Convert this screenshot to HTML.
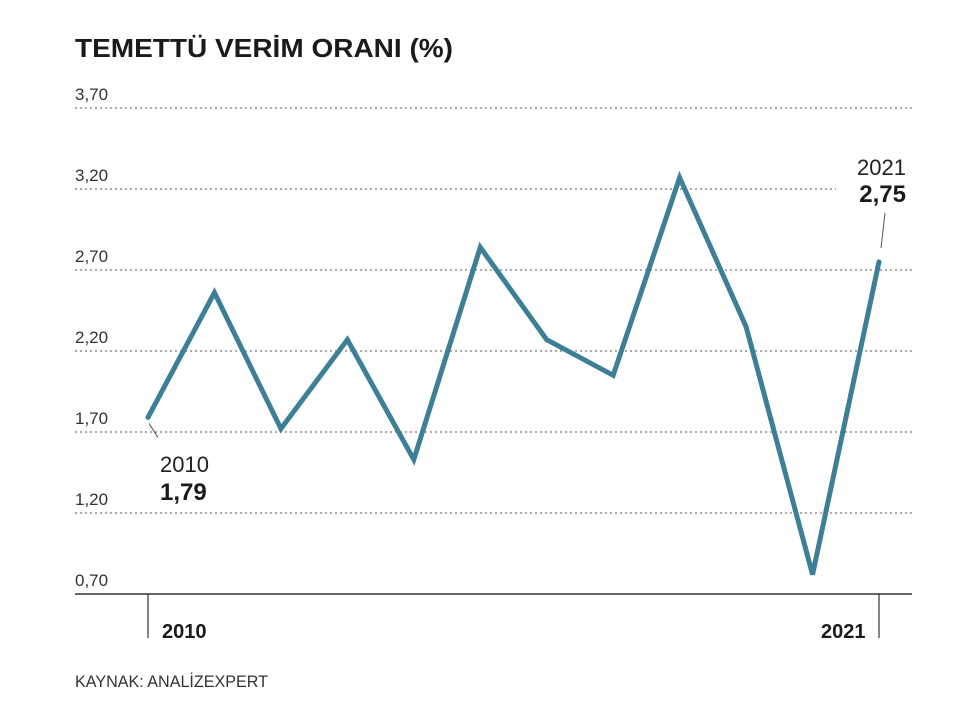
<!DOCTYPE html>
<html><head><meta charset="utf-8"><style>
body{margin:0;background:#fff;}
svg text{font-family:"Liberation Sans",sans-serif;}
</style></head><body>
<svg width="966" height="708" xmlns="http://www.w3.org/2000/svg">
<rect width="966" height="708" fill="#fff"/>
<text x="75" y="57" font-size="26" font-weight="bold" fill="#1a1a1a" textLength="378" lengthAdjust="spacingAndGlyphs">TEMETTÜ VERİM ORANI (%)</text>
<g id="grid"></g>
<g id="axis"></g>
<g id="line"></g>
<text x="75" y="687" font-size="17" fill="#333" textLength="193" lengthAdjust="spacingAndGlyphs">KAYNAK: ANALİZEXPERT</text>
</svg>
<script>
const years = [2010,2011,2012,2013,2014,2015,2016,2017,2018,2019,2020,2021];
const values = [1.79,2.56,1.72,2.27,1.53,2.84,2.27,2.05,3.27,2.35,0.82,2.75];
const tickValues = [0.70,1.20,1.70,2.20,2.70,3.20,3.70];
const tickLabels = ["0,70","1,20","1,70","2,20","2,70","3,20","3,70"];
const NS="http://www.w3.org/2000/svg";
const x = i => 148 + i*(879-148)/(years.length-1);
const y = v => 594 - (v-0.70)*162;
function mk(tag, attrs, parent, text){const e=document.createElementNS(NS,tag);for(const k in attrs)e.setAttribute(k,attrs[k]);if(text!==undefined)e.textContent=text;parent.appendChild(e);return e;}
const grid=document.getElementById('grid');
tickValues.forEach((v,i)=>{
  if(i>0){const l=mk('line',{x1:75,x2:912,y1:y(v),y2:y(v),stroke:'#555','stroke-width':1,'stroke-dasharray':'2,3'},grid);
  
  }
  const t=mk('text',{x:75,y:y(v)-8,'font-size':17,fill:'#333'},grid,tickLabels[i]);
  
  
});
const ax=document.getElementById('axis');
const b=mk('line',{x1:75,x2:912,y1:594,y2:594,stroke:'#333','stroke-width':1.5},ax);


[0,years.length-1].forEach(i=>{
  const tk=mk('line',{x1:x(i),x2:x(i),y1:594,y2:638,stroke:'#333','stroke-width':1.2},ax);
  
  
  const tx=i===0?x(i)+14:x(i)-58;
  const t=mk('text',{x:tx,y:638,'font-size':20,'font-weight':'bold',fill:'#1a1a1a'},ax,String(years[i]));
  
  
});
const lg=document.getElementById('line');
const pts=values.map((v,i)=>x(i)+','+y(v)).join(' ');
const pl=mk('polyline',{points:pts,fill:'none',stroke:'#3e7f98','stroke-width':5,'stroke-linejoin':'miter','stroke-linecap':'round'},lg);


const l1=mk('line',{x1:x(0)+1,y1:y(values[0])+6,x2:x(0)+10,y2:y(values[0])+20,stroke:'#555','stroke-width':1},lg);


const a1=mk('text',{x:160,y:472,'font-size':22,fill:'#222'},lg,String(years[0]));


const a2=mk('text',{x:160,y:500,'font-size':24,'font-weight':'bold',fill:'#1a1a1a'},lg,values[0].toFixed(2).replace('.',','));


const n=values.length-1;
const bg=mk('rect',{x:836,y:150,width:76,height:60,fill:'#fff'},lg);


const l2=mk('line',{x1:885,y1:213,x2:881,y2:248,stroke:'#555','stroke-width':1},lg);


const a3=mk('text',{x:906,y:175,'font-size':22,fill:'#222','text-anchor':'end'},lg,String(years[n]));


const a4=mk('text',{x:906,y:202,'font-size':24,'font-weight':'bold',fill:'#1a1a1a','text-anchor':'end'},lg,values[n].toFixed(2).replace('.',','));


</script>
</body></html>
